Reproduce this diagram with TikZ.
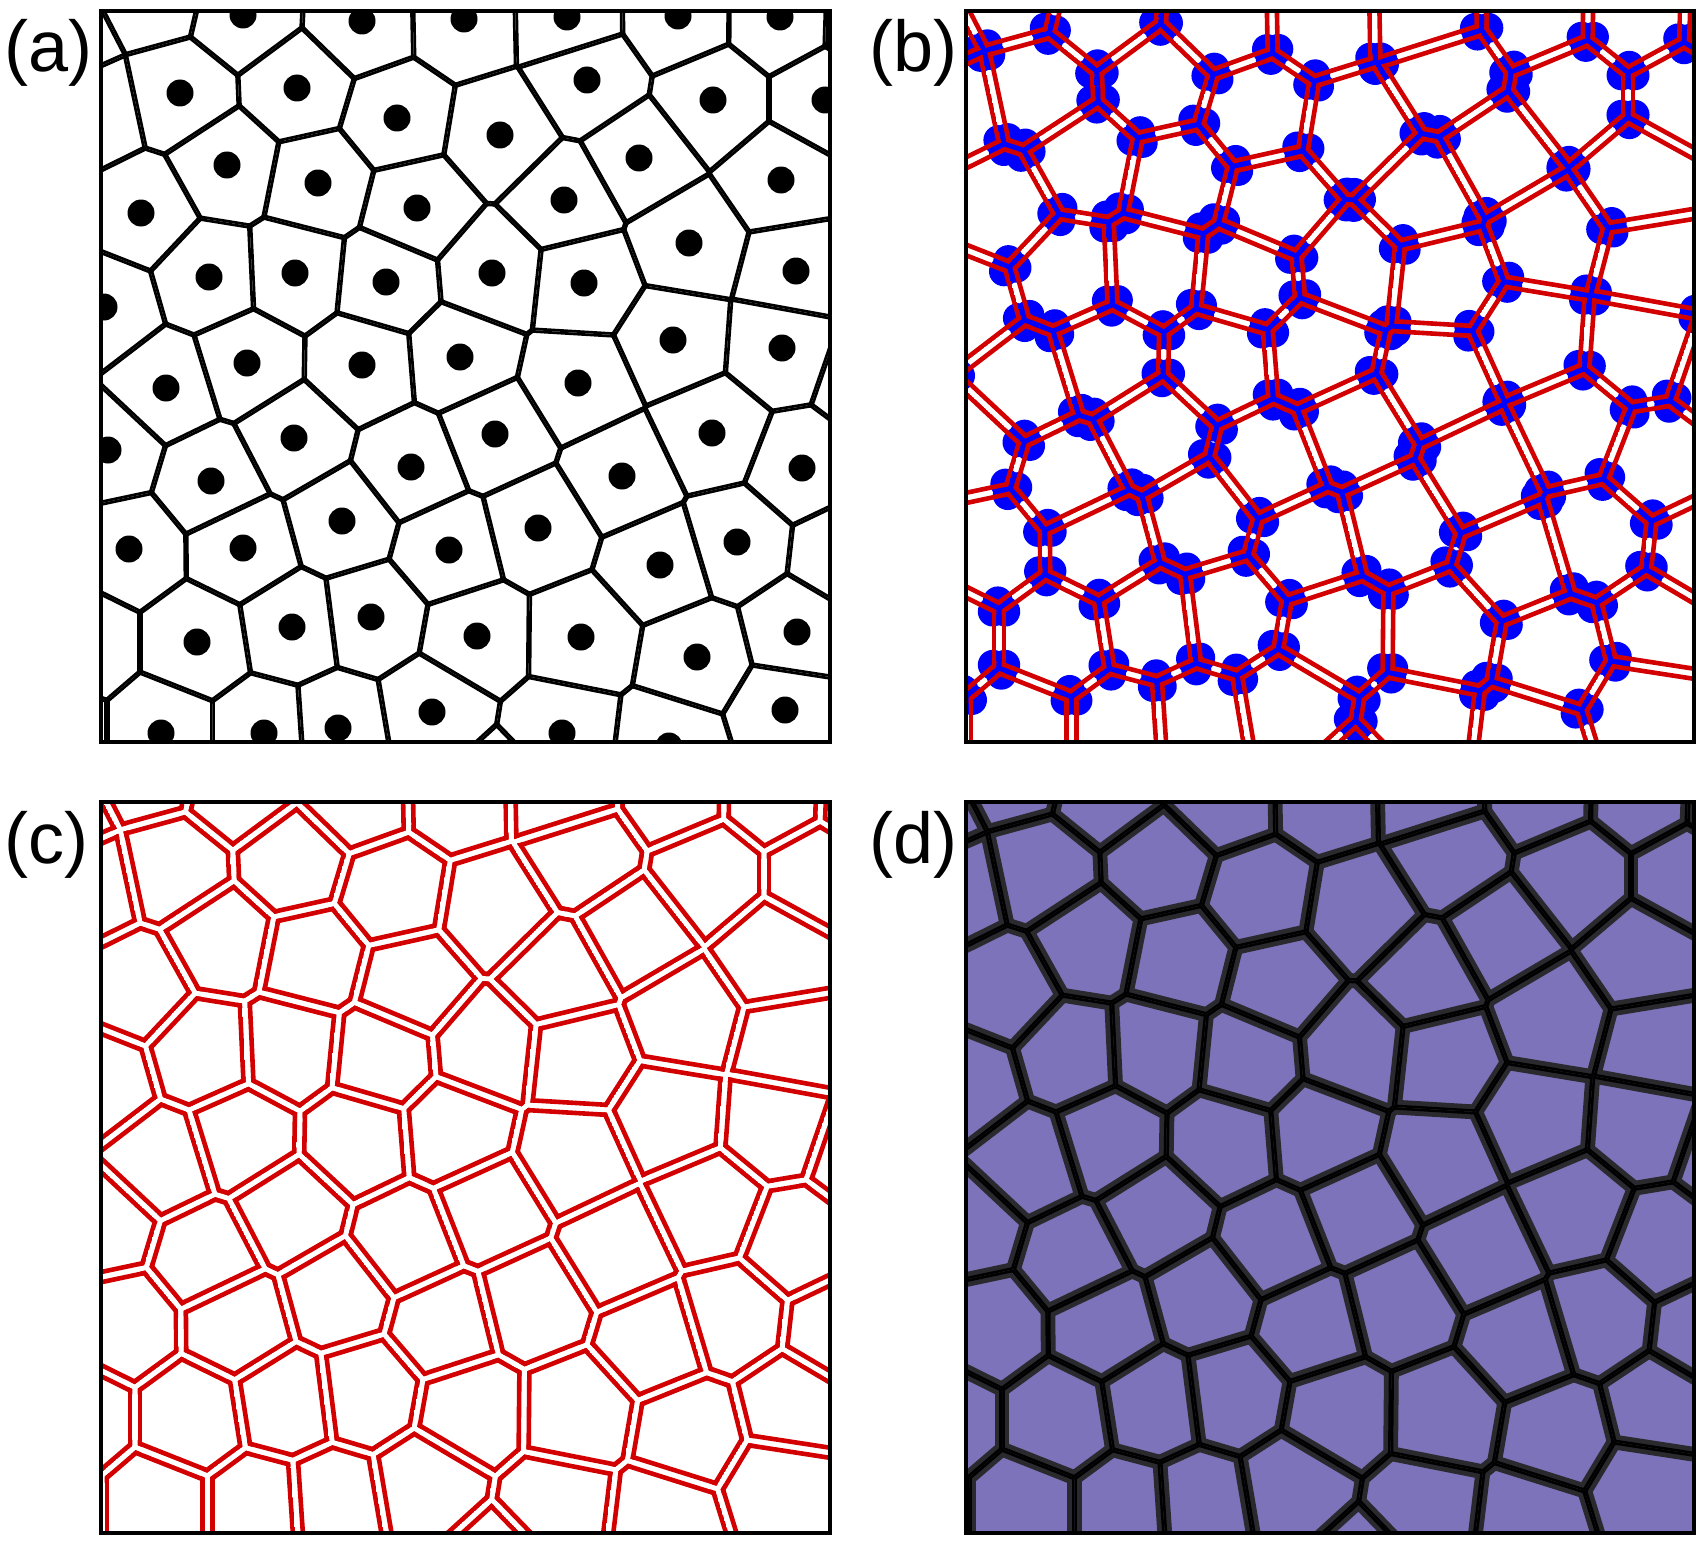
\documentclass[tikz,border=0pt]{standalone}
\usepackage{fontspec}
\setmainfont{Liberation Sans}
\definecolor{vred}{RGB}{210,0,0}
\definecolor{vblue}{RGB}{0,0,255}
\definecolor{vpurple}{RGB}{124,115,186}
\definecolor{vdark}{RGB}{42,42,46}
\tikzset{
 lineA/.style={draw=black, line width=2.7pt},
 lineB/.style={draw=vred, line width=2.3pt},
 lineC/.style={draw=vred, line width=2.3pt},
 lineDa/.style={draw=vdark, line width=7.4pt},
 lineDb/.style={draw=black, line width=2.6pt},
 dotA/.style={fill=black},
 dotB/.style={fill=vblue},
 panelframe/.style={draw=black, line width=1.7pt},
 panellab/.style={anchor=base west, inner sep=0pt, font=\fontsize{36}{40}\selectfont},
}

\ExplSyntaxOn
\int_new:N \g_vor_n_int
\fparray_new:Nn \g_vor_x_fparray {200}
\fparray_new:Nn \g_vor_y_fparray {200}
\intarray_new:Nn \g_vor_vis_intarray {200}
\tl_new:N \l_vor_i_tl
\tl_new:N \l_vor_j_tl
\tl_new:N \l_vor_k_tl
\tl_new:N \l_vor_m_tl
\tl_new:N \l_vor_style_tl
\bool_new:N \l_vor_ok_bool
\clist_map_inline:nn { xi,yi,xj,yj,xk,yk,d,g,s,px,py,off,ax,ay,bx,by,D,Aa,Bb,cx,cy,rr,r }
 { \fp_new:c { l_vor_#1_fp } }
\fp_const:Nn \c_vor_L_fp { 2000 }

\cs_new_protected:Npn \vor_add:nnn #1#2#3
 {
  \int_gincr:N \g_vor_n_int
  \fparray_gset:Nnn \g_vor_x_fparray { \g_vor_n_int } { #1 }
  \fparray_gset:Nnn \g_vor_y_fparray { \g_vor_n_int } { #2 }
  \intarray_gset:Nnn \g_vor_vis_intarray { \g_vor_n_int } { #3 }
 }

\cs_new_protected:Npn \vor_prepare:n #1
 {
  \int_step_variable:nnNn {1} {\g_vor_n_int} \l_vor_i_tl
   {
    \seq_gclear_new:c { g_vor_nb_ \l_vor_i_tl _seq }
    \fp_set:Nn \l_vor_xi_fp { \fparray_item:Nn \g_vor_x_fparray {\l_vor_i_tl} }
    \fp_set:Nn \l_vor_yi_fp { \fparray_item:Nn \g_vor_y_fparray {\l_vor_i_tl} }
    \int_step_variable:nnNn {1} {\g_vor_n_int} \l_vor_j_tl
     {
      \int_compare:nNnF {\l_vor_i_tl} = {\l_vor_j_tl}
       {
        \fp_set:Nn \l_vor_xj_fp { \fparray_item:Nn \g_vor_x_fparray {\l_vor_j_tl} }
        \fp_set:Nn \l_vor_yj_fp { \fparray_item:Nn \g_vor_y_fparray {\l_vor_j_tl} }
        \fp_set:Nn \l_vor_d_fp { sqrt((\l_vor_xj_fp-\l_vor_xi_fp)^2 + (\l_vor_yj_fp-\l_vor_yi_fp)^2) }
        \fp_compare:nNnT { \l_vor_d_fp } < { #1 }
         {
          \seq_gput_right:cx { g_vor_nb_ \l_vor_i_tl _seq } { \l_vor_j_tl }
          \tl_gset:cx { g_vor_p_ \l_vor_i_tl _ \l_vor_j_tl _tl }
           {
            { \fp_eval:n { round((\l_vor_xj_fp-\l_vor_xi_fp)/\l_vor_d_fp, 6) } }
            { \fp_eval:n { round((\l_vor_yj_fp-\l_vor_yi_fp)/\l_vor_d_fp, 6) } }
            { \fp_eval:n { round((\l_vor_xj_fp+\l_vor_xi_fp)/2, 3) } }
            { \fp_eval:n { round((\l_vor_yj_fp+\l_vor_yi_fp)/2, 3) } }
           }
         }
       }
     }
   }
 }

\cs_new_protected:Npn \vor_clip:nnnn #1#2#3#4
 {
  \fp_set:Nn \l_vor_px_fp { (#3) - \l_vor_g_fp * (#1) }
  \fp_set:Nn \l_vor_py_fp { (#4) - \l_vor_g_fp * (#2) }
  \use:x
   {
    \exp_not:N \clip
     ( \fp_eval:n { round(\l_vor_px_fp - \c_vor_L_fp * (#2), 2) } ,
       \fp_eval:n { round(\l_vor_py_fp + \c_vor_L_fp * (#1), 2) } )
     -- ( \fp_eval:n { round(\l_vor_px_fp + \c_vor_L_fp * (#2), 2) } ,
          \fp_eval:n { round(\l_vor_py_fp - \c_vor_L_fp * (#1), 2) } )
     -- ( \fp_eval:n { round(\l_vor_px_fp + \c_vor_L_fp * ((#2) - (#1)), 2) } ,
          \fp_eval:n { round(\l_vor_py_fp - \c_vor_L_fp * ((#1) + (#2)), 2) } )
     -- ( \fp_eval:n { round(\l_vor_px_fp - \c_vor_L_fp * ((#2) + (#1)), 2) } ,
          \fp_eval:n { round(\l_vor_py_fp + \c_vor_L_fp * ((#1) - (#2)), 2) } )
     -- cycle ;
   }
 }

\cs_new_protected:Npn \vor_line:nnnn #1#2#3#4
 {
  \fp_set:Nn \l_vor_px_fp { (#3) - \l_vor_s_fp * (#1) }
  \fp_set:Nn \l_vor_py_fp { (#4) - \l_vor_s_fp * (#2) }
  \use:x
   {
    \exp_not:N \draw [ \l_vor_style_tl ]
     ( \fp_eval:n { round(\l_vor_px_fp - \c_vor_L_fp * (#2), 2) } ,
       \fp_eval:n { round(\l_vor_py_fp + \c_vor_L_fp * (#1), 2) } )
     -- ( \fp_eval:n { round(\l_vor_px_fp + \c_vor_L_fp * (#2), 2) } ,
          \fp_eval:n { round(\l_vor_py_fp - \c_vor_L_fp * (#1), 2) } ) ;
   }
 }

\cs_new_protected:Npn \vor_pass:nn #1#2
 {
  \tl_set:Nn \l_vor_style_tl {#1}
  \fp_set:Nn \l_vor_s_fp {#2}
  \seq_map_variable:cNn { g_vor_nb_ \l_vor_i_tl _seq } \l_vor_j_tl
   { \exp_last_unbraced:Nv \vor_line:nnnn { g_vor_p_ \l_vor_i_tl _ \l_vor_j_tl _tl } }
 }

\cs_new_protected:Npn \vor_cells:nn #1#2
 {
  \fp_set:Nn \l_vor_g_fp {#1}
  \int_step_variable:nnNn {1} {\g_vor_n_int} \l_vor_i_tl
   {
    \begin{scope}
     \seq_map_variable:cNn { g_vor_nb_ \l_vor_i_tl _seq } \l_vor_j_tl
      { \exp_last_unbraced:Nv \vor_clip:nnnn { g_vor_p_ \l_vor_i_tl _ \l_vor_j_tl _tl } }
     \clist_map_inline:nn {#2} { \vor_pass:nn ##1 }
    \end{scope}
   }
 }

\cs_new_protected:Npn \vor_seed_dots:nn #1#2
 {
  \int_step_variable:nnNn {1} {\g_vor_n_int} \l_vor_i_tl
   {
    \int_compare:nNnT { \intarray_item:Nn \g_vor_vis_intarray {\l_vor_i_tl} } = {1}
     {
      \use:x
       {
        \exp_not:N \fill [#1]
        ( \fp_eval:n { \fparray_item:Nn \g_vor_x_fparray {\l_vor_i_tl} } ,
          \fp_eval:n { \fparray_item:Nn \g_vor_y_fparray {\l_vor_i_tl} } )
        circle [radius=#2] ;
       }
     }
   }
 }

\cs_new_protected:Npn \vor_emit_dot:nnnn #1#2#3#4
 {
  \use:x
   {
    \exp_not:N \fill [#1]
     ( \fp_eval:n { round(\l_vor_cx_fp + \l_vor_off_fp * ((#3) - \l_vor_cx_fp) / \l_vor_r_fp, 2) } ,
       \fp_eval:n { round(\l_vor_cy_fp + \l_vor_off_fp * ((#4) - \l_vor_cy_fp) / \l_vor_r_fp, 2) } )
     circle [radius=#2] ;
   }
 }

\cs_new_protected:Npn \vor_try_vertex:nnn #1#2#3
 {
  \fp_set:Nn \l_vor_xi_fp { \fparray_item:Nn \g_vor_x_fparray {\l_vor_i_tl} }
  \fp_set:Nn \l_vor_yi_fp { \fparray_item:Nn \g_vor_y_fparray {\l_vor_i_tl} }
  \fp_set:Nn \l_vor_xj_fp { \fparray_item:Nn \g_vor_x_fparray {\l_vor_j_tl} }
  \fp_set:Nn \l_vor_yj_fp { \fparray_item:Nn \g_vor_y_fparray {\l_vor_j_tl} }
  \fp_set:Nn \l_vor_xk_fp { \fparray_item:Nn \g_vor_x_fparray {\l_vor_k_tl} }
  \fp_set:Nn \l_vor_yk_fp { \fparray_item:Nn \g_vor_y_fparray {\l_vor_k_tl} }
  \fp_set:Nn \l_vor_ax_fp { \l_vor_xj_fp - \l_vor_xi_fp }
  \fp_set:Nn \l_vor_ay_fp { \l_vor_yj_fp - \l_vor_yi_fp }
  \fp_set:Nn \l_vor_bx_fp { \l_vor_xk_fp - \l_vor_xi_fp }
  \fp_set:Nn \l_vor_by_fp { \l_vor_yk_fp - \l_vor_yi_fp }
  \fp_set:Nn \l_vor_D_fp { 2 * (\l_vor_ax_fp * \l_vor_by_fp - \l_vor_ay_fp * \l_vor_bx_fp) }
  \fp_compare:nNnT { abs(\l_vor_D_fp) } > { 0.001 }
   {
    \fp_set:Nn \l_vor_Aa_fp { \l_vor_ax_fp^2 + \l_vor_ay_fp^2 }
    \fp_set:Nn \l_vor_Bb_fp { \l_vor_bx_fp^2 + \l_vor_by_fp^2 }
    \fp_set:Nn \l_vor_cx_fp { (\l_vor_by_fp * \l_vor_Aa_fp - \l_vor_ay_fp * \l_vor_Bb_fp) / \l_vor_D_fp }
    \fp_set:Nn \l_vor_cy_fp { (\l_vor_ax_fp * \l_vor_Bb_fp - \l_vor_bx_fp * \l_vor_Aa_fp) / \l_vor_D_fp }
    \fp_set:Nn \l_vor_rr_fp { \l_vor_cx_fp^2 + \l_vor_cy_fp^2 }
    \fp_set:Nn \l_vor_cx_fp { \l_vor_cx_fp + \l_vor_xi_fp }
    \fp_set:Nn \l_vor_cy_fp { \l_vor_cy_fp + \l_vor_yi_fp }
    \fp_compare:nNnT { \l_vor_rr_fp } < { (#2)^2 }
     {
      \bool_set_true:N \l_vor_ok_bool
      \seq_map_variable:cNn { g_vor_nb_ \l_vor_i_tl _seq } \l_vor_m_tl
       {
        \fp_compare:nNnT
         { (\fparray_item:Nn \g_vor_x_fparray {\l_vor_m_tl} - \l_vor_cx_fp)^2
           + (\fparray_item:Nn \g_vor_y_fparray {\l_vor_m_tl} - \l_vor_cy_fp)^2 }
         < { \l_vor_rr_fp - 1 }
         { \bool_set_false:N \l_vor_ok_bool }
       }
      \bool_if:NT \l_vor_ok_bool
       {
        \fp_set:Nn \l_vor_r_fp { sqrt(\l_vor_rr_fp) }
        \vor_emit_dot:nnnn {#1} {#3} { \l_vor_xi_fp } { \l_vor_yi_fp }
        \vor_emit_dot:nnnn {#1} {#3} { \l_vor_xj_fp } { \l_vor_yj_fp }
        \vor_emit_dot:nnnn {#1} {#3} { \l_vor_xk_fp } { \l_vor_yk_fp }
       }
     }
   }
 }

\cs_new_protected:Npn \vor_vertices:nnnn #1#2#3#4
 {
  \fp_set:Nn \l_vor_off_fp {#2}
  \int_step_variable:nnNn {1} {\g_vor_n_int} \l_vor_i_tl
   {
    \seq_map_variable:cNn { g_vor_nb_ \l_vor_i_tl _seq } \l_vor_j_tl
     {
      \int_compare:nNnT { \l_vor_j_tl } > { \l_vor_i_tl }
       {
        \seq_map_variable:cNn { g_vor_nb_ \l_vor_i_tl _seq } \l_vor_k_tl
         {
          \int_compare:nNnT { \l_vor_k_tl } > { \l_vor_j_tl }
           {
            \seq_if_in:cVT { g_vor_nb_ \l_vor_j_tl _seq } \l_vor_k_tl
             { \vor_try_vertex:nnn {#1} {#3} {#4} }
           }
         }
       }
     }
   }
 }

\NewDocumentCommand \SeedIn {mm} { \vor_add:nnn {#1} {#2} {1} }
\NewDocumentCommand \SeedOut {mm} { \vor_add:nnn {#1} {#2} {0} }
\NewDocumentCommand \VorPrepare {m} { \vor_prepare:n {#1} }
\NewDocumentCommand \VorCells {mm} { \vor_cells:nn {#1} {#2} }
\NewDocumentCommand \VorSeedDots {mm} { \vor_seed_dots:nn {#1} {#2} }
\NewDocumentCommand \VorVertices {mmmm} { \vor_vertices:nnnn {#1} {#2} {#3} {#4} }
\ExplSyntaxOff

\SeedIn{243}{15}\SeedIn{362}{21}\SeedIn{464}{19}\SeedIn{567}{17}\SeedIn{678}{16}\SeedIn{780}{17}
\SeedIn{180}{93}\SeedIn{297}{88}\SeedIn{397}{118}\SeedIn{500}{135}\SeedIn{587}{80}\SeedIn{713}{100}\SeedIn{825}{100}
\SeedIn{227}{165}\SeedIn{318}{183}\SeedIn{417}{208}\SeedIn{564}{200}\SeedIn{639}{158}\SeedIn{781}{180}
\SeedIn{141}{213}\SeedIn{209}{277}\SeedIn{295}{273}\SeedIn{386}{282}\SeedIn{492}{273}\SeedIn{584}{283}\SeedIn{689}{243}\SeedIn{796}{271}
\SeedIn{104}{307}\SeedIn{247}{363}\SeedIn{362}{365}\SeedIn{460}{357}\SeedIn{578}{383}\SeedIn{673}{340}\SeedIn{782}{348}
\SeedIn{166}{388}\SeedIn{294}{438}\SeedIn{411}{467}\SeedIn{495}{434}\SeedIn{712}{433}
\SeedIn{108}{450}\SeedIn{211}{481}\SeedIn{342}{521}\SeedIn{622}{476}\SeedIn{802}{468}
\SeedIn{129}{549}\SeedIn{243}{548}\SeedIn{449}{550}\SeedIn{538}{528}\SeedIn{737}{542}\SeedIn{660}{565}
\SeedIn{292}{627}\SeedIn{371}{617}\SeedIn{197}{642}\SeedIn{477}{636}\SeedIn{581}{637}\SeedIn{797}{632}\SeedIn{697}{657}
\SeedIn{432}{712}\SeedIn{161}{733}\SeedIn{264}{733}\SeedIn{338}{728}\SeedIn{562}{733}\SeedIn{785}{710}\SeedIn{669}{746}
\SeedOut{153}{-6}\SeedOut{60}{42}\SeedOut{91}{112}\SeedOut{83}{642}\SeedOut{53}{733}
\SeedOut{503}{790}\SeedOut{869}{378}\SeedOut{843}{554}\SeedOut{872}{20}
\VorPrepare{200}

\begin{document}
\begin{tikzpicture}[x=0.5pt,y=-0.5pt]
\useasboundingbox (0,0) rectangle (1708,1541);
\fill[white] (0,0) rectangle (1708,1541);
% (a)
\begin{scope}
 \clip (101,11) rectangle (830,742);
 \VorCells{0}{{lineA}{0}}
 \VorSeedDots{dotA}{6.75pt}
\end{scope}
% (b)
\begin{scope}
 \clip (966,11) rectangle (1694,742);
 \begin{scope}[shift={(859,-4)}]
  \VorVertices{dotB}{7}{100}{7.5pt}
  \VorCells{2.7}{{lineB}{5}}
 \end{scope}
\end{scope}
% (c)
\begin{scope}
 \clip (101,802) rectangle (830,1533);
 \begin{scope}[shift={(-5,775)}]
  \VorCells{2.7}{{lineC}{5}}
 \end{scope}
\end{scope}
% (d)
\fill[vpurple] (966,802) rectangle (1694,1533);
\begin{scope}
 \clip (966,802) rectangle (1694,1533);
 \begin{scope}[shift={(862,777)}]
  \VorCells{0}{{lineDa}{0},{lineDb}{0}}
 \end{scope}
\end{scope}
\draw[panelframe] (101,11) rectangle (830,742);
\draw[panelframe] (966,11) rectangle (1694,742);
\draw[panelframe] (101,802) rectangle (830,1533);
\draw[panelframe] (966,802) rectangle (1694,1533);
\node[panellab] (la) at (4,72) {(a)};
\node[panellab] (lb) at (869,72) {(b)};
\node[panellab] (lc) at (4,863) {(c)};
\node[panellab] (ld) at (869,863) {(d)};
\end{tikzpicture}
\end{document}
